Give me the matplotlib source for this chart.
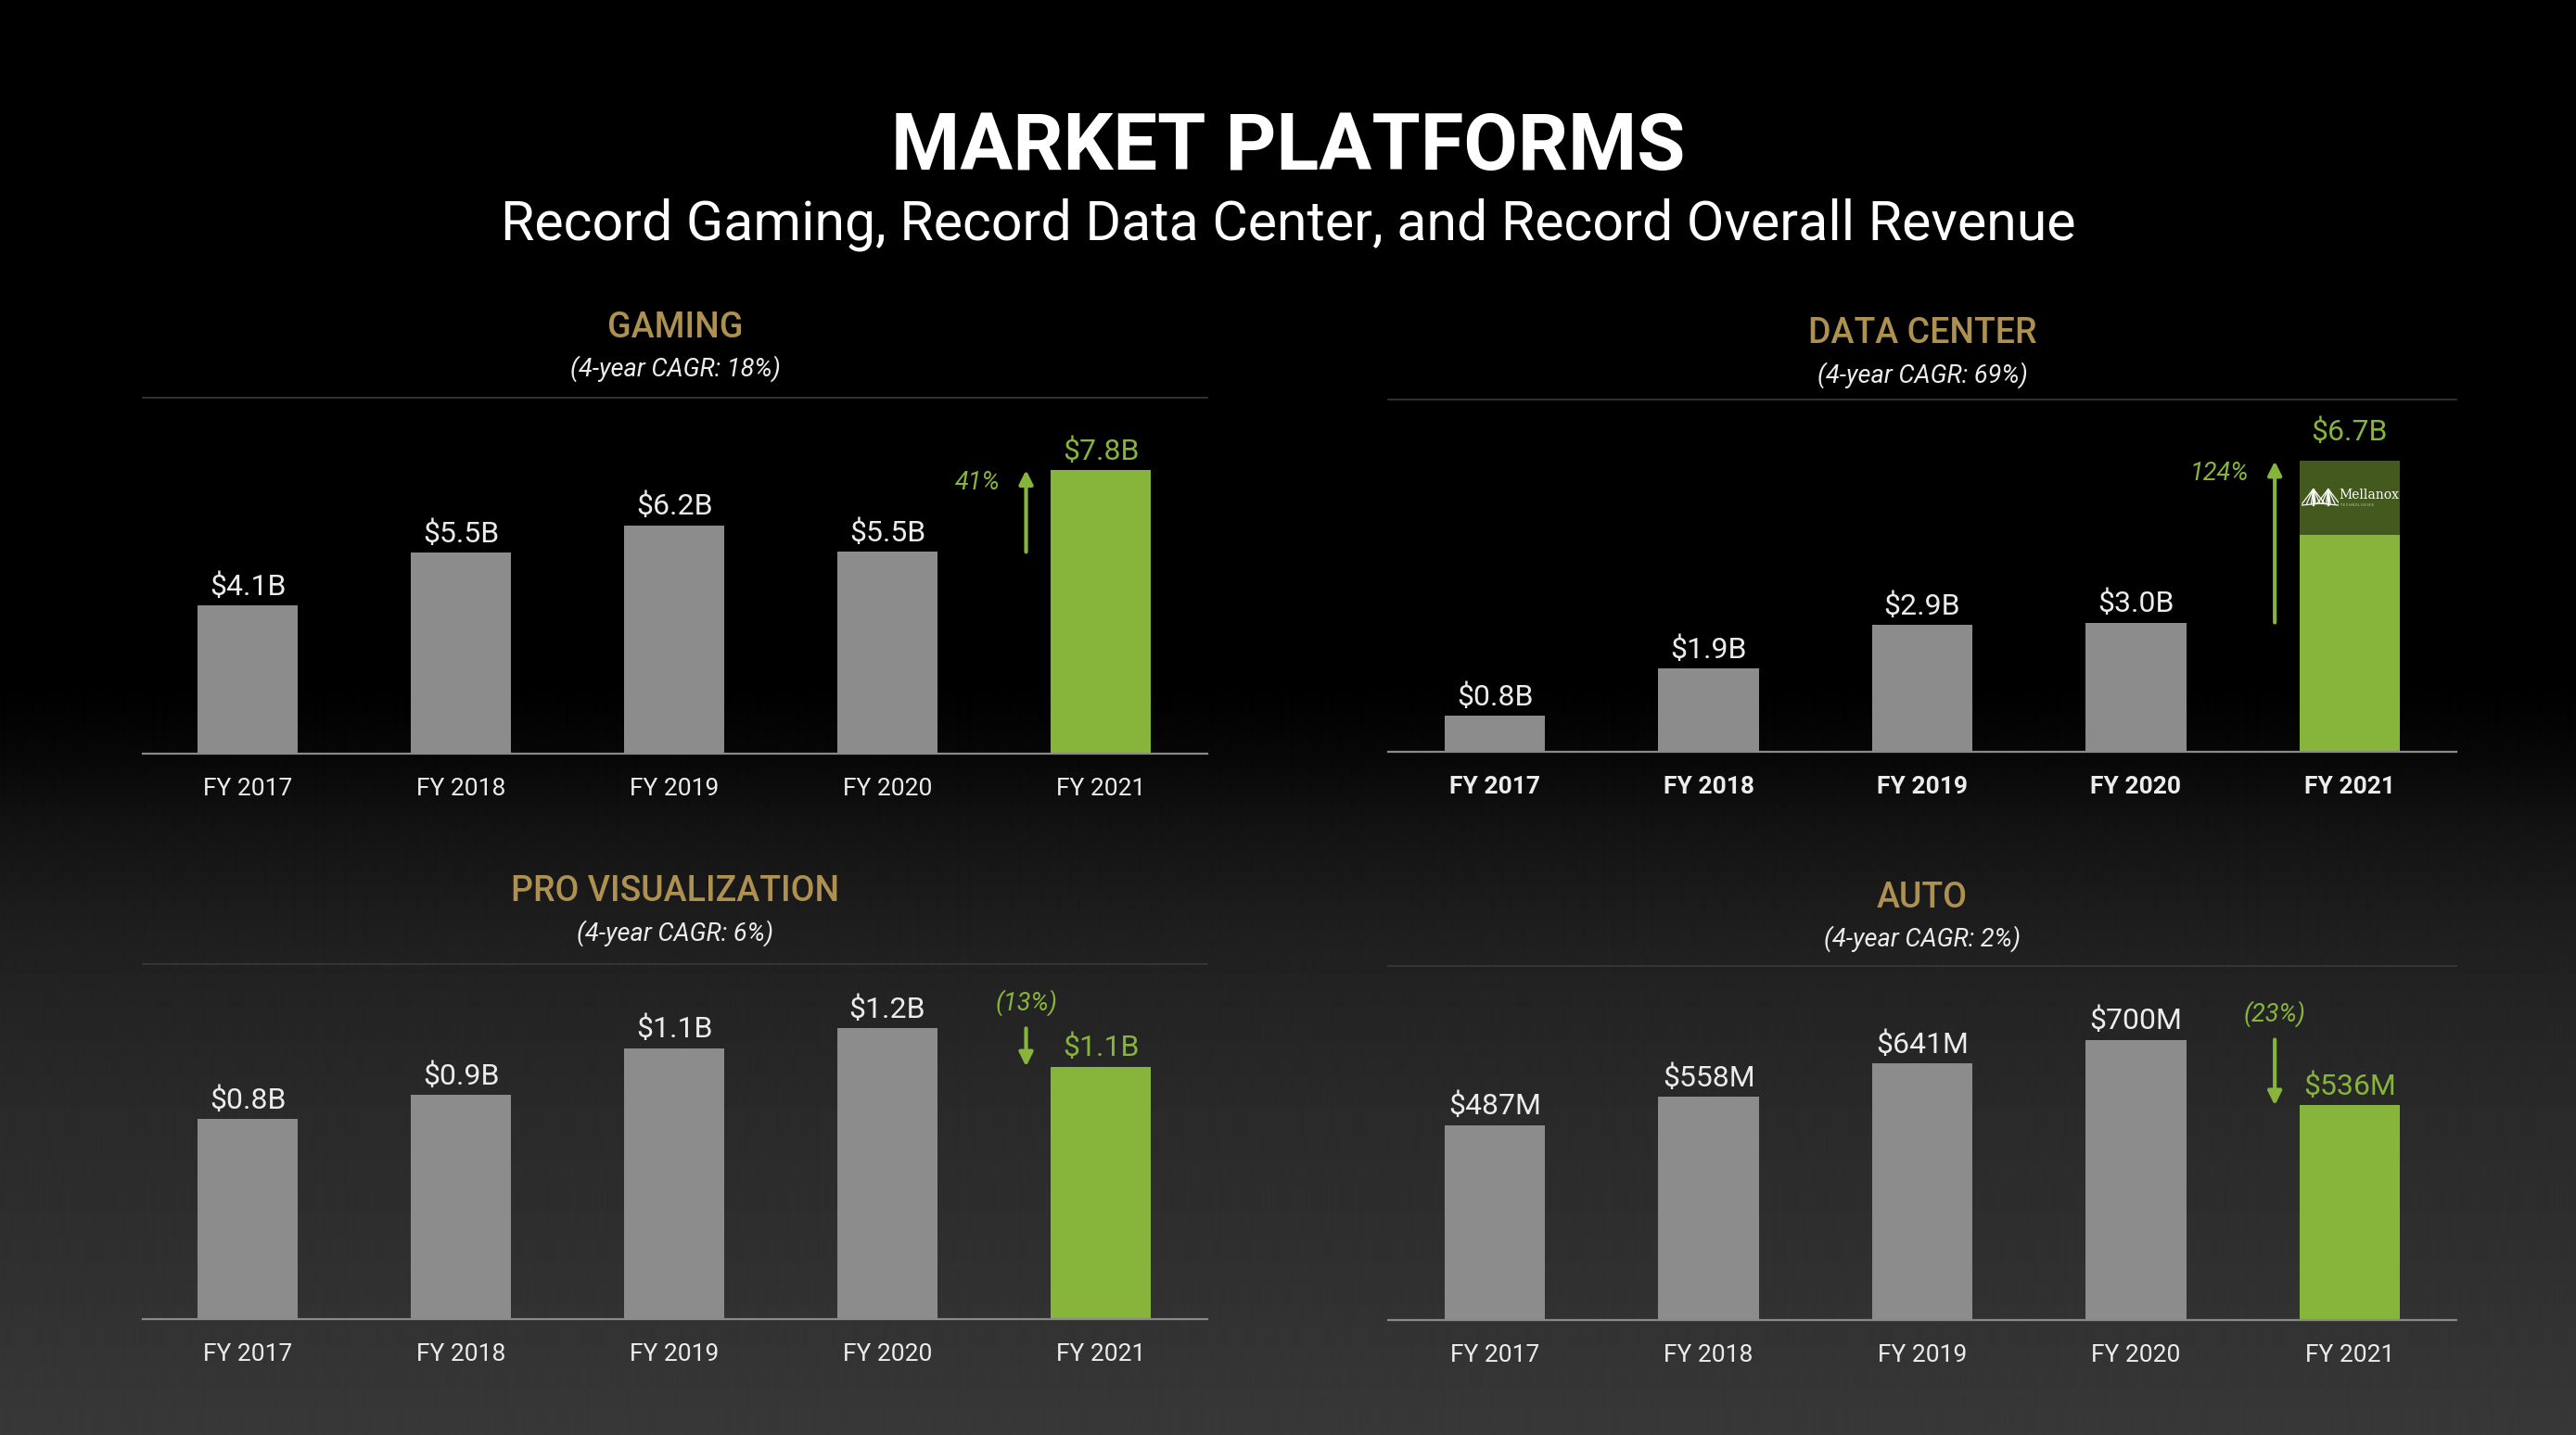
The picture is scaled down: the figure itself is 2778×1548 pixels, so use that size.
"""
NVIDIA market platforms slide: four bar panels on a dark background.
"""

import numpy as np
import matplotlib
matplotlib.use("Agg")  # headless
import matplotlib.pyplot as plt

plt.rcParams["font.family"] = ["Roboto", "DejaVu Sans"]

YEARS = ["FY 2017", "FY 2018", "FY 2019", "FY 2020", "FY 2021"]

gaming_vals = [4.06, 5.51, 6.25, 5.52, 7.76]
gaming_labels = ["$4.1B", "$5.5B", "$6.2B", "$5.5B", "$7.8B"]

dc_vals = [0.83, 1.93, 2.93, 2.98, 5.00]      # organic data center
dc_mellanox = [0.0, 0.0, 0.0, 0.0, 1.70]      # Mellanox contribution
dc_labels = ["$0.8B", "$1.9B", "$2.9B", "$3.0B", "$6.7B"]

pv_vals = [0.835, 0.934, 1.130, 1.212, 1.053]
pv_labels = ["$0.8B", "$0.9B", "$1.1B", "$1.2B", "$1.1B"]

auto_vals = [487, 558, 641, 700, 536]
auto_labels = ["$487M", "$558M", "$641M", "$700M", "$536M"]

GREY = "#8c8c8c"
GREEN = "#87b53b"
DARK_GREEN = "#44591d"
GOLD = "#ae9150"
WHITE = "#ececec"
BAR_W = 0.47

W, H = 2778, 1548


def fx(px):
    return px / W


def fy(py):
    return 1 - py / H


def draw_mellanox(ax, i, base, extra, ymax, ax_h_px):
    """Mellanox logo inside the stacked segment of bar i."""
    ymid = base + extra * 0.51
    left = i - BAR_W / 2
    px_per_unit = ax_h_px / ymax
    ih = 20 / px_per_unit
    icon = ax.inset_axes([left + 0.01, ymid - ih * 0.55, 0.174, ih],
                         transform=ax.transData, zorder=4)
    icon.set_xlim(0, 1)
    icon.set_ylim(0, 1)
    icon.axis("off")
    kw = dict(color="white", lw=0.9, solid_capstyle="round")
    for peak in (0.32, 0.72):
        for foot in (-0.3, -0.18, -0.06, 0.06, 0.18, 0.3):
            icon.plot([peak, peak + foot], [1.0, 0.18 + abs(foot) * 0.1], **kw)
        icon.plot([peak, peak], [1.0, 0.1], color="white", lw=1.6)
    icon.plot([0.0, 0.5, 1.0], [0.12, 0.22, 0.12], **kw)

    ax.annotate("Mellanox", (left, ymid), xytext=(31, 2), textcoords="offset points",
                ha="left", va="center", fontsize=10, family=["DejaVu Serif"],
                color="white", zorder=4)
    ax.annotate("T E C H N O L O G I E S", (left, ymid), xytext=(32, -6),
                textcoords="offset points", ha="left", va="center", fontsize=2.6,
                color="#d8d8d8", zorder=4)


def draw_panel(fig, cfg):
    left, right = cfg["x"]
    top, base = cfg["y"]
    ax = fig.add_axes([fx(left), fy(base), fx(right - left), (base - top) / H])
    ax.set_facecolor("none")

    vals = np.array(cfg["values"], dtype=float)
    extra = np.array(cfg.get("extra", [0] * len(vals)), dtype=float)
    totals = vals + extra
    x = np.arange(len(vals))

    colors = [GREY] * (len(vals) - 1) + [GREEN]
    ax.bar(x, vals, width=BAR_W, color=colors, zorder=2)
    if extra.any():
        ax.bar(x, extra, bottom=vals, width=BAR_W, color=DARK_GREEN, zorder=2)
        i = len(vals) - 1
        draw_mellanox(ax, i, vals[i], extra[i], cfg["ymax"], base - top)

    for i, (t, lab) in enumerate(zip(totals, cfg["labels"])):
        last = i == len(vals) - 1
        off = 8 + (8 if last and extra.any() else 0)
        ax.annotate(lab, (i, t), xytext=(0, off), textcoords="offset points",
                    ha="center", va="baseline", fontsize=23,
                    color=GREEN if last else WHITE)

    # change arrow from FY20 to FY21
    prev, curr = totals[-2], totals[-1]
    arr_x = 3.65
    ax.annotate("", xy=(arr_x, curr), xytext=(arr_x, prev),
                arrowprops=dict(arrowstyle="-|>", color=GREEN, lw=3,
                                mutation_scale=22, shrinkA=0, shrinkB=0))
    if curr > prev:
        ax.annotate(cfg["pct"], (arr_x, curr), xytext=(-20, -10),
                    textcoords="offset points", ha="right", va="center",
                    fontsize=19.5, style="italic", color=GREEN)
    else:
        ax.annotate(cfg["pct"], (arr_x, prev), xytext=(0, 20),
                    textcoords="offset points", ha="center", va="center",
                    fontsize=19.5, style="italic", color=GREEN)

    ax.set_xlim(cfg["xlim"])
    ax.set_ylim(0, cfg["ymax"])
    ax.set_yticks([])
    ax.set_xticks(x)
    ax.set_xticklabels(YEARS, fontsize=19, color=WHITE,
                       fontweight="bold" if cfg.get("bold") else "normal")
    ax.tick_params(axis="x", length=0, pad=19)

    for s in ["left", "right"]:
        ax.spines[s].set_visible(False)
    ax.spines["top"].set_color("#3a3a3a")
    ax.spines["top"].set_linewidth(1.2)
    ax.spines["bottom"].set_color("#8a8a8a")
    ax.spines["bottom"].set_linewidth(1.6)
    ax.spines["bottom"].set_zorder(3)

    cx = (left + right) / 2
    fig.text(fx(cx), fy(cfg["title_y"] + 4), cfg["title"], ha="center", va="center",
             fontsize=27, fontweight="medium", color=GOLD)
    fig.text(fx(cx), fy(cfg["title_y"] + 49), cfg["cagr"], ha="center", va="center",
             fontsize=19.5, style="italic", color=WHITE)


fig = plt.figure(figsize=(W / 100, H / 100), dpi=100, facecolor="black")

# background: black top fading to charcoal at the bottom
bg = fig.add_axes([0, 0, 1, 1], zorder=-5)
rows = np.arange(H)
level = np.interp(rows, [0, 740, 820, 900, 1033, 1200, 1367, H],
                  [0, 0, 8, 20, 33, 42, 48, 56]) / 255
grad = np.repeat(level[:, None], 4, axis=1)
bg.imshow(grad, cmap="gray", vmin=0, vmax=1, aspect="auto", extent=[0, 1, 0, 1],
          interpolation="bilinear")
bg.axis("off")

fig.text(0.5, fy(160), "MARKET PLATFORMS", ha="center", va="center",
         fontsize=61, fontweight="bold", color="white")
fig.text(0.5, fy(242), "Record Gaming, Record Data Center, and Record Overall Revenue",
         ha="center", va="center", fontsize=42.5, color="white")

panels = [
    {"title": "GAMING", "cagr": "(4-year CAGR: 18%)", "values": gaming_vals,
     "labels": gaming_labels, "pct": "41%", "x": (154, 1302), "y": (429, 813),
     "title_y": 349, "xlim": (-0.492, 4.5), "ymax": 9.74},
    {"title": "DATA CENTER", "cagr": "(4-year CAGR: 69%)", "values": dc_vals,
     "extra": dc_mellanox, "labels": dc_labels, "pct": "124%", "bold": True,
     "x": (1497, 2649), "y": (431, 811), "title_y": 356,
     "xlim": (-0.5, 4.5), "ymax": 8.12},
    {"title": "PRO VISUALIZATION", "cagr": "(4-year CAGR: 6%)", "values": pv_vals,
     "labels": pv_labels, "pct": "(13%)", "x": (154, 1302), "y": (1040, 1423),
     "title_y": 958, "xlim": (-0.492, 4.5), "ymax": 1.48},
    {"title": "AUTO", "cagr": "(4-year CAGR: 2%)", "values": auto_vals,
     "labels": auto_labels, "pct": "(23%)", "x": (1497, 2649), "y": (1042, 1424),
     "title_y": 964, "xlim": (-0.5, 4.5), "ymax": 884},
]

for cfg in panels:
    draw_panel(fig, cfg)

fig.savefig("out.png", dpi=100, facecolor="black")
plt.close(fig)
